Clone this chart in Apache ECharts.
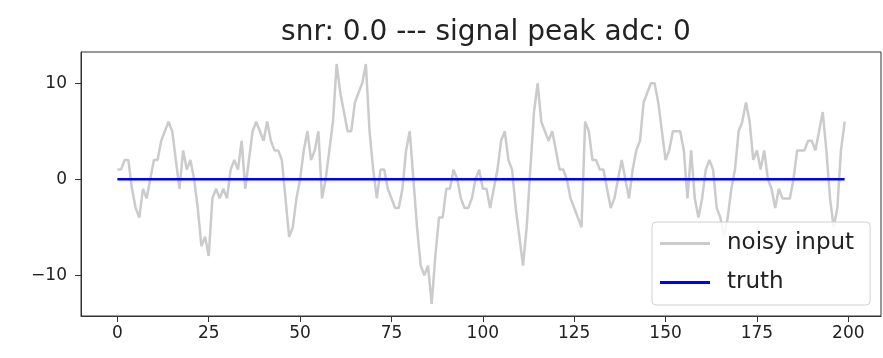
<!DOCTYPE html>
<html>
<head>
<meta charset="utf-8">
<script src="https://cdn.jsdelivr.net/npm/echarts@6/dist/echarts.min.js"></script>
<style>
  html, body { margin: 0; padding: 0; background: #fff; }
</style>
</head>
<body>
<div id="myChart1" style="width: 883px; height: 358px;"></div>
<script>
// noisy adc samples, one per index 0..199
var noisy = [
  1, 1, 2, 2, -1, -3, -4, -1, -2, 0, 2, 2, 4, 5, 6, 5, 2, -1, 3, 1,
  2, 0, -3, -7, -6, -8, -2, -1, -2, -1, -2, 1, 2, 1, 4, -1, 2, 5, 6, 5,
  4, 6, 4, 3, 3, 2, -2, -6, -5, -2, 0, 3, 5, 2, 3, 5, -2, 0, 3, 6,
  12, 9, 7, 5, 5, 8, 9, 10, 12, 5, 1, -2, 1, 1, -1, -2, -3, -3, -1, 3,
  5, 0, -5, -9, -10, -9, -13, -8, -4, -4, -1, -1, 1, 0, -2, -3, -3, -2, 0, 1,
  -1, -1, -3, -1, 1, 4, 5, 2, 1, -3, -6, -9, -5, 1, 7, 10, 6, 5, 4, 5,
  3, 1, 1, 0, -2, -3, -4, -5, 6, 5, 2, 2, 1, 1, -1, -3, -2, 0, 2, 0,
  -2, 1, 3, 4, 8, 9, 10, 10, 8, 5, 2, 3, 5, 5, 5, 3, -2, 3, -2, -4,
  -2, 1, 2, 1, -3, -4, -6, -4, -1, 1, 5, 6, 8, 6, 2, 3, 1, 3, 0, -1,
  -3, -1, -2, -2, -2, 0, 3, 3, 3, 4, 4, 3, 5, 7, 3, -2, -5, -3, 3, 6
];
var truth = [
  0, 0, 0, 0, 0, 0, 0, 0, 0, 0, 0, 0, 0, 0, 0, 0, 0, 0, 0, 0,
  0, 0, 0, 0, 0, 0, 0, 0, 0, 0, 0, 0, 0, 0, 0, 0, 0, 0, 0, 0,
  0, 0, 0, 0, 0, 0, 0, 0, 0, 0, 0, 0, 0, 0, 0, 0, 0, 0, 0, 0,
  0, 0, 0, 0, 0, 0, 0, 0, 0, 0, 0, 0, 0, 0, 0, 0, 0, 0, 0, 0,
  0, 0, 0, 0, 0, 0, 0, 0, 0, 0, 0, 0, 0, 0, 0, 0, 0, 0, 0, 0,
  0, 0, 0, 0, 0, 0, 0, 0, 0, 0, 0, 0, 0, 0, 0, 0, 0, 0, 0, 0,
  0, 0, 0, 0, 0, 0, 0, 0, 0, 0, 0, 0, 0, 0, 0, 0, 0, 0, 0, 0,
  0, 0, 0, 0, 0, 0, 0, 0, 0, 0, 0, 0, 0, 0, 0, 0, 0, 0, 0, 0,
  0, 0, 0, 0, 0, 0, 0, 0, 0, 0, 0, 0, 0, 0, 0, 0, 0, 0, 0, 0,
  0, 0, 0, 0, 0, 0, 0, 0, 0, 0, 0, 0, 0, 0, 0, 0, 0, 0, 0, 0
];
var xTicks = [0, 25, 50, 75, 100, 125, 150, 175, 200];
var yTicks = [-10, 0, 10];
var titleText = "snr: 0.0 --- signal peak adc: 0";

var fontFam = "DejaVu Sans";
var myChart = echarts.init(document.getElementById("myChart1"), null, { renderer: "canvas" });

function pairs(arr) {
  return arr.map(function (v, i) { return [i, v]; });
}

var option = {
  animation: false,
  backgroundColor: "#fff",
  title: {
    text: titleText,
    left: 481,
    textAlign: "center",
    top: 14,
    textStyle: { fontFamily: fontFam, fontSize: 28, fontWeight: "normal", color: "#222" },
  },
  grid: {
    left: 81,
    right: 2,
    top: 52,
    bottom: 42,
    show: true,
    borderColor: "#333",
    borderWidth: 1,
  },
  legend: {
    orient: "vertical",
    left: 652,
    top: 222,
    padding: [10, 16, 11, 8],
    itemGap: 16,
    itemWidth: 50,
    itemHeight: 3,
    icon: "rect",
    backgroundColor: "rgba(255,255,255,0.85)",
    borderColor: "#d0d0d0",
    borderWidth: 1,
    borderRadius: 4,
    textStyle: { fontFamily: fontFam, fontSize: 23, color: "#222", padding: [0, 0, 0, 12] },
    data: ["noisy input", "truth"],
  },
  xAxis: {
    type: "value",
    min: -9.95,
    max: 208.95,
    axisLine: { show: true, onZero: false, lineStyle: { color: "#333" } },
    splitLine: { show: false },
    axisTick: { show: true, length: 6, customValues: xTicks, lineStyle: { color: "#333" } },
    axisLabel: { customValues: xTicks, margin: 9, fontFamily: fontFam, fontSize: 17, color: "#222" },
  },
  yAxis: {
    type: "value",
    min: -14.25,
    max: 13.25,
    axisLine: { show: true, onZero: false, lineStyle: { color: "#333" } },
    splitLine: { show: false },
    axisTick: { show: true, length: 6, customValues: yTicks, lineStyle: { color: "#333" } },
    axisLabel: {
      customValues: yTicks,
      margin: 14,
      fontFamily: fontFam,
      fontSize: 17,
      color: "#222",
      // matplotlib uses a real minus sign
      formatter: function (v) { return String(v).replace("-", "\u2212"); },
    },
  },
  series: [
    {
      name: "noisy input",
      type: "line",
      data: pairs(noisy),
      symbol: "none",
      color: "#cbcbcb",
      lineStyle: { width: 2.5, color: "#cbcbcb" },
    },
    {
      name: "truth",
      type: "line",
      data: pairs(truth),
      symbol: "none",
      color: "#0000ff",
      lineStyle: { width: 2.5, color: "#0000ff" },
    },
  ],
};
myChart.setOption(option);
</script>
</body>
</html>
